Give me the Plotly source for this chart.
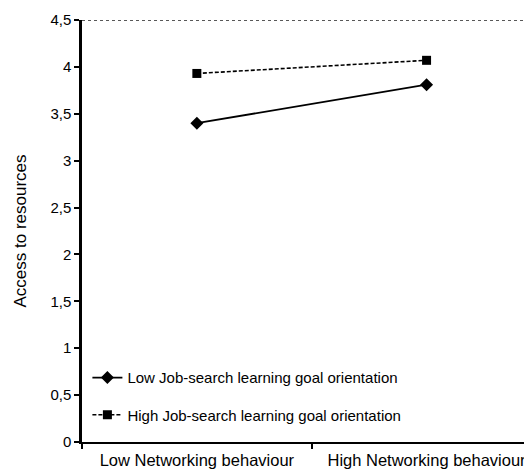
import plotly.graph_objects as go

categories = ["Low Networking behaviour", "High Networking behaviour"]
low_lgo = [3.40, 3.81]
high_lgo = [3.93, 4.07]
series_names = ["Low Job-search learning goal orientation", "High Job-search learning goal orientation"]
ytick_vals = [0, 0.5, 1, 1.5, 2, 2.5, 3, 3.5, 4, 4.5]
ytick_text = ["0", "0,5", "1", "1,5", "2", "2,5", "3", "3,5", "4", "4,5"]

fig = go.Figure()
fig.add_trace(go.Scatter(x=categories, y=low_lgo, mode="lines+markers", name=series_names[0],
                         line=dict(color="black", width=1.8),
                         marker=dict(symbol="diamond", size=10, color="black"),
                         legend="legend"))
fig.add_trace(go.Scatter(x=categories, y=high_lgo, mode="lines+markers", name=series_names[1],
                         line=dict(color="black", width=1.6, dash="4px,2px"),
                         marker=dict(symbol="square", size=9, color="black"),
                         legend="legend2"))

fig.add_shape(type="line", xref="paper", yref="y", x0=0, x1=0.99, y0=4.5, y1=4.5,
              line=dict(color="#222", width=1.3, dash="dot"))

leg_common = dict(xanchor="left", yanchor="middle", bgcolor="rgba(0,0,0,0)",
                  font=dict(size=15, family="Liberation Sans, Arial", color="black"),
                  itemwidth=30)

# page body has an 8px default margin, so the figure is 8px smaller and shifted
fig.update_layout(
    width=524, height=467,
    margin=dict(l=74, r=0, t=12, b=33),
    paper_bgcolor="white", plot_bgcolor="white",
    font=dict(family="Liberation Sans, Arial", color="black"),
    showlegend=True,
    legend=dict(x=0.012, y=0.152, **leg_common),
    legend2=dict(x=0.012, y=0.064, **leg_common),
    xaxis=dict(type="category", range=[-0.5, 1.459], showgrid=False, zeroline=False,
               showline=True, linecolor="black", linewidth=2, ticks="outside",
               tickson="boundaries", ticklen=5, tickcolor="black", tickwidth=1.5,
               tickfont=dict(size=16.5), automargin=False, ticklabelstandoff=2),
    yaxis=dict(range=[0, 4.5], tickvals=ytick_vals, ticktext=ytick_text, showgrid=False,
               zeroline=False, showline=True, linecolor="black", linewidth=2.5,
               ticks="outside", ticklen=5, tickcolor="black", tickwidth=1.5,
               tickfont=dict(size=15), automargin=False,
               title=dict(text="Access to resources", font=dict(size=17), standoff=20)),
)

fig.write_html("out.html")
